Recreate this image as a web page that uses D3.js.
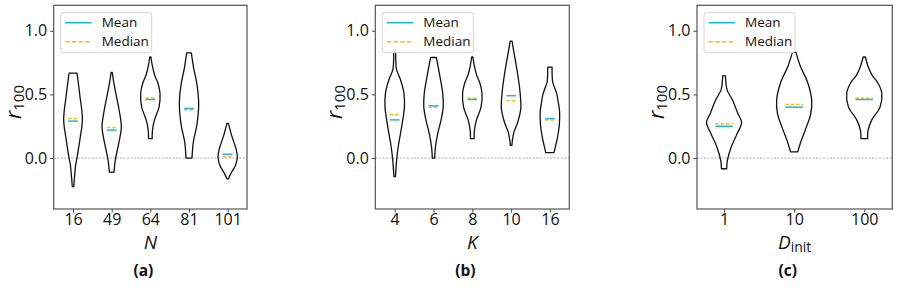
<!DOCTYPE html>
<html>
<head>
<meta charset="utf-8">
<script src="https://cdn.jsdelivr.net/npm/d3@7"></script>
<style>
  body { margin: 0; background: #fff; }
  svg text { font-family: "Open Sans", "Noto Sans", sans-serif; fill: #111; }
</style>
</head>
<body>
<script>
// ---- data ----
// violin outlines are [r100, relative half-width] pairs, bottom to top
const nCats = ["16", "49", "64", "81", "101"];
const nMean = [0.29, 0.22, 0.46, 0.39, 0.03];
const nMedian = [0.31, 0.24, 0.47, 0.38, 0.01];
const nShapes = [
  [[-0.224,0.08],[-0.17,0.13],[-0.11,0.2],[-0.05,0.28],[0.0,0.41],[0.08,0.58],[0.18,0.78],[0.25,0.92],[0.31,0.97],[0.38,0.9],[0.47,0.74],[0.57,0.58],[0.668,0.41]],
  [[-0.11,0.24],[-0.05,0.32],[0.0,0.41],[0.127,0.76],[0.245,1.0],[0.36,0.81],[0.52,0.4],[0.6,0.2],[0.673,0.06]],
  [[0.153,0.19],[0.22,0.22],[0.30,0.43],[0.40,0.9],[0.51,1.0],[0.59,0.78],[0.65,0.45],[0.72,0.22],[0.794,0.06]],
  [[0.0,0.31],[0.127,0.45],[0.259,0.81],[0.417,1.0],[0.575,0.83],[0.707,0.48],[0.826,0.24]],
  [[-0.163,0.08],[-0.124,0.31],[-0.058,0.8],[0.008,1.0],[0.074,0.86],[0.18,0.4],[0.272,0.08]]
];

const kCats = ["4", "6", "8", "10", "16"];
const kMean = [0.30, 0.41, 0.46, 0.49, 0.31];
const kMedian = [0.34, 0.40, 0.47, 0.45, 0.30];
const kShapes = [
  [[-0.145,0.08],[-0.018,0.2],[0.087,0.36],[0.19,0.59],[0.30,0.83],[0.40,1.0],[0.51,0.95],[0.615,0.6],[0.694,0.19],[0.75,0.12],[0.85,0.1]],
  [[0.0,0.12],[0.087,0.2],[0.19,0.43],[0.30,0.78],[0.40,1.0],[0.51,0.95],[0.667,0.6],[0.79,0.29]],
  [[0.153,0.19],[0.22,0.22],[0.30,0.43],[0.40,0.9],[0.51,1.0],[0.59,0.78],[0.65,0.45],[0.72,0.22],[0.794,0.06]],
  [[0.1,0.08],[0.15,0.15],[0.206,0.3],[0.285,0.7],[0.39,1.0],[0.52,0.92],[0.654,0.69],[0.81,0.34],[0.87,0.2],[0.918,0.1]],
  [[0.043,0.43],[0.074,0.52],[0.153,0.76],[0.26,0.97],[0.364,1.0],[0.43,0.88],[0.50,0.72],[0.56,0.45],[0.60,0.28],[0.66,0.23],[0.715,0.22]]
];

const dCats = ["1", "10", "100"];
const dMean = [0.25, 0.40, 0.46];
const dMedian = [0.27, 0.42, 0.47];
const dShapes = [
  [[-0.084,0.15],[-0.018,0.19],[0.087,0.41],[0.19,0.74],[0.28,1.0],[0.35,0.79],[0.456,0.48],[0.536,0.17],[0.6,0.1],[0.646,0.08]],
  [[0.048,0.2],[0.14,0.41],[0.245,0.7],[0.35,0.95],[0.456,1.0],[0.59,0.78],[0.72,0.36],[0.83,0.1]],
  [[0.153,0.19],[0.22,0.22],[0.30,0.43],[0.40,0.9],[0.51,1.0],[0.59,0.78],[0.65,0.45],[0.72,0.22],[0.794,0.06]]
];

const yTicks = [0.0, 0.5, 1.0];

const meanColor = "#1cb4ec";
const medianColor = "#fdbb10";
const fontFam = "'Open Sans', 'Noto Sans', sans-serif";

const W = 897, H = 290;
const svg = d3.select("body").append("svg")
  .attr("width", W)
  .attr("height", H);

// y scale shared by all three panels
const plotTop = 5.3, plotBottom = 209;
let y = d3.scaleLinear().domain([-0.4, 1.2]).range([plotBottom, plotTop]);

const drawPanel = (opts) => {
  let x = d3.scaleLinear().domain(opts.xDomain).range([opts.left, opts.right]);
  let g = svg.append("g");
  let n = opts.cats.length;
  let pos = d3.range(1, n + 1);
  let unit = x(1) - x(0);

  // zero line
  g.append("line")
    .attr("x1", opts.left).attr("x2", opts.right)
    .attr("y1", y(0)).attr("y2", y(0))
    .attr("stroke", "#999")
    .attr("stroke-width", 0.8)
    .attr("stroke-dasharray", "2,1.5");

  // violins
  let area = d3.area()
    .curve(d3.curveCatmullRom.alpha(0.5))
    .y(d => y(d[0]));
  opts.shapes.forEach((shape, i) => {
    let cx = x(pos[i]);
    area.x0(d => cx - d[1] * 0.25 * unit).x1(d => cx + d[1] * 0.25 * unit);
    g.append("path")
      .attr("d", area(shape))
      .attr("fill", "none")
      .attr("stroke", "#111")
      .attr("stroke-width", 1.3)
      .attr("stroke-linejoin", "round");
  });

  // median (dashed) and mean lines
  g.selectAll(".med").data(opts.median).enter().append("line")
    .attr("x1", (d, i) => x(pos[i] - 0.125))
    .attr("x2", (d, i) => x(pos[i] + 0.125))
    .attr("y1", d => y(d)).attr("y2", d => y(d))
    .attr("stroke", medianColor)
    .attr("stroke-width", 1.5)
    .attr("stroke-dasharray", "3.5,1.8");
  g.selectAll(".mean").data(opts.mean).enter().append("line")
    .attr("x1", (d, i) => x(pos[i] - 0.125))
    .attr("x2", (d, i) => x(pos[i] + 0.125))
    .attr("y1", d => y(d)).attr("y2", d => y(d))
    .attr("stroke", meanColor)
    .attr("stroke-width", 1.5);

  // axes
  let xAxis = d3.axisBottom(x)
    .tickValues(pos)
    .tickFormat((d, i) => opts.cats[i])
    .tickSizeOuter(0)
    .tickSize(3.5)
    .tickPadding(1.5);
  let xg = g.append("g")
    .attr("transform", "translate(0," + plotBottom + ")")
    .call(xAxis);
  let yAxis = d3.axisLeft(y)
    .tickValues(yTicks)
    .tickFormat(d3.format(".1f"))
    .tickSizeOuter(0)
    .tickSize(3.5)
    .tickPadding(3);
  let yg = g.append("g")
    .attr("transform", "translate(" + opts.left + ",0)")
    .call(yAxis);
  [xg, yg].forEach(a => {
    a.select(".domain").remove();
    a.selectAll("line").attr("stroke", "#444").attr("stroke-width", 1);
    a.selectAll("text").attr("font-size", 16).attr("fill", "#111")
      .style("font-family", fontFam);
  });

  // frame
  g.append("rect")
    .attr("x", opts.left).attr("y", plotTop)
    .attr("width", opts.right - opts.left).attr("height", plotBottom - plotTop)
    .attr("fill", "none")
    .attr("stroke", "#555")
    .attr("stroke-width", 1.2);

  // legend
  let lg = g.append("g").attr("transform", "translate(" + (opts.left + 7) + ",12.7)");
  lg.append("rect")
    .attr("width", 91).attr("height", 40)
    .attr("rx", 2.5)
    .attr("fill", "#fff").attr("fill-opacity", 0.85)
    .attr("stroke", "#d0d0d0").attr("stroke-width", 0.9);
  lg.append("line").attr("x1", 4.5).attr("x2", 31).attr("y1", 10).attr("y2", 10)
    .attr("stroke", meanColor).attr("stroke-width", 1.6);
  lg.append("line").attr("x1", 4.5).attr("x2", 31).attr("y1", 29).attr("y2", 29)
    .attr("stroke", medianColor).attr("stroke-width", 1.6)
    .attr("stroke-dasharray", "4.5,2.2");
  lg.append("text").attr("x", 41).attr("y", 14.5).attr("font-size", 13.5).text("Mean");
  lg.append("text").attr("x", 41).attr("y", 33.5).attr("font-size", 13.5).text("Median");

  // y label r_100
  let cxm = (opts.left + opts.right) / 2;
  let yl = g.append("text")
    .attr("transform", "translate(" + (opts.left - 33) + ",102) rotate(-90)")
    .attr("text-anchor", "middle");
  yl.append("tspan").attr("font-size", 21).attr("font-style", "italic").text("r");
  yl.append("tspan").attr("font-size", 15).attr("dy", 3).text("100");

  // x label
  let xl = g.append("text")
    .attr("x", cxm).attr("y", 249)
    .attr("text-anchor", "middle");
  xl.append("tspan").attr("font-size", 19).attr("font-style", "italic").text(opts.xLabel);
  if (opts.xSub) {
    xl.append("tspan").attr("font-size", 14).attr("dy", 3).text(opts.xSub);
  }

  // panel tag
  g.append("text")
    .attr("x", cxm - 7).attr("y", 276)
    .attr("text-anchor", "middle")
    .attr("font-size", 15.5)
    .attr("font-weight", "bold")
    .text(opts.tag);
};

drawPanel({ cats: nCats, mean: nMean, median: nMedian, shapes: nShapes,
  left: 53.7, right: 247, xDomain: [0.5, 5.5], xLabel: "N", tag: "(a)" });
drawPanel({ cats: kCats, mean: kMean, median: kMedian, shapes: kShapes,
  left: 375.3, right: 569.3, xDomain: [0.5, 5.5], xLabel: "K", tag: "(b)" });
drawPanel({ cats: dCats, mean: dMean, median: dMedian, shapes: dShapes,
  left: 697, right: 892.3, xDomain: [0.614, 3.4], xLabel: "D", xSub: "init", tag: "(c)" });
</script>
</body>
</html>
